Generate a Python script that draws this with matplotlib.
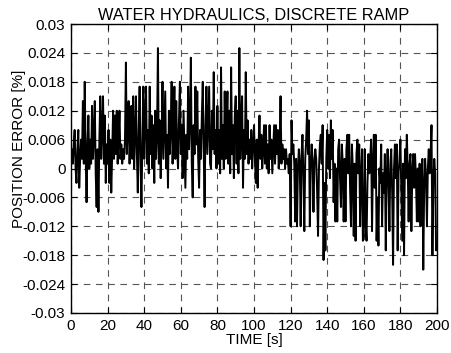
import numpy as np
import matplotlib
matplotlib.use('Agg')
import matplotlib.pyplot as plt

plt.rcParams['font.family'] = ['Liberation Sans', 'DejaVu Sans']

# position error, one value every 0.5 s, in units of 1e-3 %
dt = 0.5
err_milli = [
    3, 4, 1, 5, 8, 0, -3, 4, 8, -4, 2, 6, 2, 14, 1, 18, 3, -7, 5, 11,
    0, 6, 1, 13, 2, 7, 14, -1, -8, 4, -9, 6, 15, 2, 8, 15, 1, 11, -3, 5,
    1, 8, -3, 6, -5, 3, 12, 2, 11, 3, 12, 1, 6, 12, 2, 5, 1, 4, 2, 6,
    22, 3, 8, 14, 1, 9, 13, 2, 15, 0, 7, 15, 3, -5, 8, 17, 1, -8, 6, 17,
    2, 10, 17, 1, 8, -1, 17, 3, 11, 0, 9, -3, 12, 2, 7, 25, 1, 10, -2, 6,
    18, 2, 9, 16, 0, 7, -4, 12, 3, 9, 18, 1, 8, 17, 2, 14, 4, 0, 10, 18,
    3, 9, -2, 12, 4, -4, 7, 2, 17, 4, 10, 23, 1, -6, 9, 3, 17, 5, 16, 2,
    -4, 8, 2, 11, 18, 4, -8, 9, 17, 3, 10, 17, 1, 0, 12, 4, 20, 3, 8, 0,
    13, 1, 8, -1, 21, 2, 9, 0, 16, 2, 10, 16, 1, 12, -1, 21, 3, 9, -2, 11,
    15, 1, 12, -1, 25, 2, 10, 15, -4, 8, 2, 20, 3, 10, 1, 6, 2, 8, 0, 5,
    9, 2, -3, 6, -4, 5, 11, 2, 7, 0, 4, 9, 1, 9, 0, 5, -1, 9, 2, 6,
    -1, 4, 9, 1, 9, 3, 8, 0, 4, 15, 1, 5, 2, 4, 0, 4, 1, 2, -1, 3,
    -12, 10, 3, 5, 1, -11, 2, -12, 0, 4, 1, -12, 3, 7, -2, -13, 2, 6, 12, 3,
    10, -12, 0, 5, 2, -9, 1, 4, 2, -5, -14, 0, 5, 7, 1, 9, -19, -3, -17, 2,
    8, 0, 7, -2, 10, 2, 8, -7, 1, -11, 0, -11, 4, 6, -2, -8, 5, 1, -11, 2,
    -11, 4, 7, -1, 7, -4, -12, 5, 0, -14, 1, -15, 3, 6, -1, 5, -12, -2, 4, -15,
    -14, 4, -11, -15, -3, 3, -1, 2, 6, -13, 1, 7, -4, 7, -15, -6, -16, 0, -3, 5,
    -12, -1, -5, 3, -17, -2, 4, -3, -13, 1, 4, -5, -20, 0, 5, -2, 5, -17, -1, 2,
    6, -4, -15, 1, -18, 4, -2, 7, 0, -11, 1, 3, -13, -1, 3, -4, 3, -2, -11, 0,
    -11, 1, -12, -3, 2, -21, -4, 2, -2, -12, 0, 4, -1, 3, 9, -18, -3, 2, -1, -17,
    -16,
]
time_s = np.arange(len(err_milli)) * dt
pos_err = np.array(err_milli) * 1e-3

x_ticks = [0, 20, 40, 60, 80, 100, 120, 140, 160, 180, 200]
y_ticks = [-0.03, -0.024, -0.018, -0.012, -0.006, 0, 0.006, 0.012, 0.018, 0.024, 0.03]
y_tick_labels = ['-0.03', '-0.024', '-0.018', '-0.012', '-0.006', '0',
                 '0.006', '0.012', '0.018', '0.024', '0.03']

fig = plt.figure(figsize=(4.51, 3.53), dpi=100)
ax = fig.add_axes([71 / 451, 40 / 353, 366 / 451, 289 / 353])

ax.plot(time_s, pos_err, color='black', linewidth=1.4)

ax.set_xlim(0, 200)
ax.set_ylim(-0.03, 0.03)
ax.set_xticks(x_ticks)
ax.set_xticklabels([str(v) for v in x_ticks])
ax.set_yticks(y_ticks)
ax.set_yticklabels(y_tick_labels)
ax.tick_params(direction='in', length=4, width=0.8, labelsize=11, pad=4,
               top=True, right=True)
for sp in ax.spines.values():
    sp.set_linewidth(1.0)

# matlab style dashed grid
ax.grid(True, color='#555555', linestyle=(0, (6, 5)), linewidth=0.8)

ax.set_title('WATER HYDRAULICS, DISCRETE RAMP', fontsize=11.8, pad=3)
ax.set_xlabel('TIME [s]', fontsize=11, labelpad=0)
ax.set_ylabel('POSITION ERROR [%]', fontsize=11)
ax.yaxis.set_label_coords(-0.124, 0.567)

fig.savefig('out.png', dpi=100)
